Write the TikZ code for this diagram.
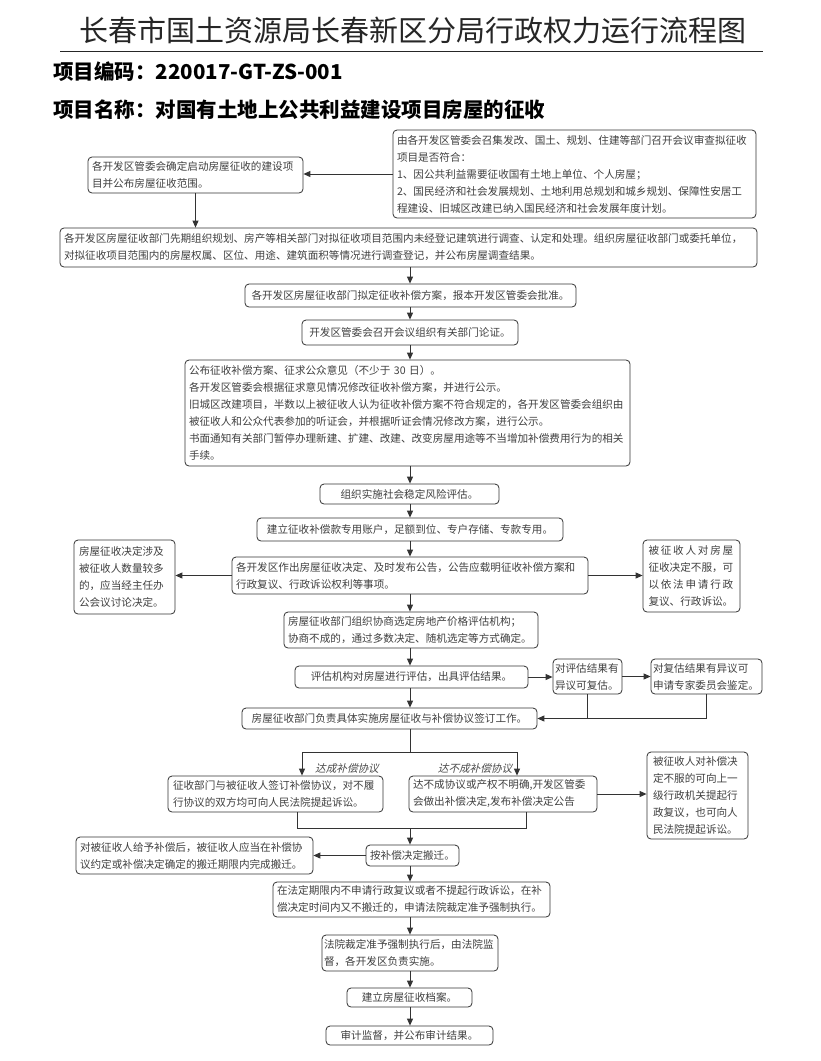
\documentclass[tikz,border=0pt]{standalone}
\usepackage{fontspec}
\newfontfamily\cjk{Noto Sans CJK SC}
\newfontfamily\cjki[FakeSlant=0.25]{Noto Sans CJK SC}
\usetikzlibrary{arrows.meta}
\begin{document}
\begin{tikzpicture}[x=1pt,y=-1pt,
  box/.style={draw=black!80, rounded corners=4pt, line width=0.8pt, inner sep=0pt,
    font=\cjk\fontsize{10.6}{17}\selectfont, text=black!75, align=left},
  cbox/.style={box, align=center},
  arr/.style={draw=black!80, line width=0.9pt, -{Triangle[length=7pt,width=6pt]}},
  ln/.style={draw=black!80, line width=0.9pt},
  lbl/.style={font=\cjki\fontsize{10.6}{12}\selectfont, text=black!70, inner sep=0pt}]
\useasboundingbox (0,0) rectangle (820,1061);
\fill[white] (0,0) rectangle (820,1061);
\coordinate (ax) at (410,0);

% header
\node[font=\cjk\fontsize{29}{30}\selectfont, text=black!85, inner sep=0pt] (title) at (413,30) {长春市国土资源局长春新区分局行政权力运行流程图};
\draw[line width=1pt, black!85] (60,51) -- (763,51);
\node[anchor=west, inner sep=0pt, font=\cjk\bfseries\fontsize{20.5}{22}\selectfont] (code) at (53,72) {项目编码：220017-GT-ZS-001};
\node[anchor=west, inner sep=0pt, font=\cjk\bfseries\fontsize{20.5}{22}\selectfont] (pname) at (53,110) {项目名称：对国有土地上公共利益建设项目房屋的征收};

% boxes
\node[box, minimum width=363, minimum height=88, text width=355] (A) at (574.5,174) {由各开发区管委会召集发改、国土、规划、住建等部门召开会议审查拟征收\\项目是否符合：\\1、因公共利益需要征收国有土地上单位、个人房屋；\\2、国民经济和社会发展规划、土地利用总规划和城乡规划、保障性安居工\\程建设、旧城区改建已纳入国民经济和社会发展年度计划。};
\node[box, minimum width=215, minimum height=36, text width=207] (B) at (195.5,175) {各开发区管委会确定启动房屋征收的建设项\\目并公布房屋征收范围。};
\node[box, minimum width=697, minimum height=39, text width=689] (C) at (408.5,247.5) {各开发区房屋征收部门先期组织规划、房产等相关部门对拟征收项目范围内未经登记建筑进行调查、认定和处理。组织房屋征收部门或委托单位，\\对拟征收项目范围内的房屋权属、区位、用途、建筑面积等情况进行调查登记，并公布房屋调查结果。};
\node[cbox, minimum width=331, minimum height=23] (D) at (410.5,295.5) {各开发区房屋征收部门拟定征收补偿方案，报本开发区管委会批准。};
\node[cbox, minimum width=216, minimum height=25] (E) at (410,332.5) {开发区管委会召开会议组织有关部门论证。};
\node[box, minimum width=445, minimum height=106, text width=437] (F) at (407.5,413) {公布征收补偿方案、征求公众意见（不少于 30 日）。\\各开发区管委会根据征求意见情况修改征收补偿方案，并进行公示。\\旧城区改建项目，半数以上被征收人认为征收补偿方案不符合规定的，各开发区管委会组织由\\被征收人和公众代表参加的听证会，并根据听证会情况修改方案，进行公示。\\书面通知有关部门暂停办理新建、扩建、改建、改变房屋用途等不当增加补偿费用行为的相关\\手续。};
\node[cbox, minimum width=179, minimum height=20] (G) at (409.5,494) {组织实施社会稳定风险评估。};
\node[cbox, minimum width=306, minimum height=23] (H) at (410,529.5) {建立征收补偿款专用账户，足额到位、专户存储、专款专用。};
\node[box, minimum width=356, minimum height=37, text width=348] (I) at (410,575.5) {各开发区作出房屋征收决定、及时发布公告，公告应载明征收补偿方案和\\行政复议、行政诉讼权利等事项。};
\node[box, minimum width=101, minimum height=74, text width=91] (J) at (124.5,577) {房屋征收决定涉及\\被征收人数量较多\\的，应当经主任办\\公会议讨论决定。};
\node[box, minimum width=97, minimum height=72, text width=86] (K) at (691.5,576) {\makebox[84.8pt][s]{被\hfill 征\hfill 收\hfill 人\hfill 对\hfill 房\hfill 屋}\\征收决定不服，可\\\makebox[84.8pt][s]{以\hfill 依\hfill 法\hfill 申\hfill 请\hfill 行\hfill 政}\\复议、行政诉讼。};
\node[box, minimum width=254, minimum height=36, text width=246] (L) at (411,630) {房屋征收部门组织协商选定房地产价格评估机构；\\协商不成的，通过多数决定、随机选定等方式确定。};
\node[cbox, minimum width=233, minimum height=22] (M) at (411.5,677) {评估机构对房屋进行评估，出具评估结果。};
\node[box, minimum width=69, minimum height=35, text width=65] (N) at (587.5,676.5) {对评估结果有\\异议可复估。};
\node[box, minimum width=111, minimum height=35, text width=107] (O) at (706.5,676.5) {对复估结果有异议可\\申请专家委员会鉴定。};
\node[cbox, minimum width=295, minimum height=21] (P) at (389.5,718.5) {房屋征收部门负责具体实施房屋征收与补偿协议签订工作。};
\node[box, minimum width=215, minimum height=36, text width=205] (Q) at (275.5,794) {征收部门与被征收人签订补偿协议，对不履\\行协议的双方均可向人民法院提起诉讼。};
\node[box, minimum width=188, minimum height=36, text width=180] (R) at (503,794) {达不成协议或产权不明确,开发区管委\\会做出补偿决定,发布补偿决定公告};
\node[box, minimum width=101, minimum height=87, text width=89] (S) at (697.5,795.5) {被征收人对补偿决\\定不服的可向上一\\级行政机关提起行\\政复议，也可向人\\民法院提起诉讼。};
\node[cbox, minimum width=93, minimum height=21] (T) at (412.5,855.5) {按补偿决定搬迁。};
\node[box, minimum width=237, minimum height=37, text width=229] (U) at (194.5,855.5) {对被征收人给予补偿后，被征收人应当在补偿协\\议约定或补偿决定确定的搬迁期限内完成搬迁。};
\node[box, minimum width=277, minimum height=35, text width=269] (V) at (411.5,899.5) {在法定期限内不申请行政复议或者不提起行政诉讼，在补\\偿决定时间内又不搬迁的，申请法院裁定准予强制执行。};
\node[box, minimum width=176, minimum height=36, text width=172] (W) at (410,953) {法院裁定准予强制执行后，由法院监\\督，各开发区负责实施。};
\node[cbox, minimum width=125, minimum height=19] (X) at (409.5,997.5) {建立房屋征收档案。};
\node[cbox, minimum width=167, minimum height=19] (Y) at (409.5,1035.5) {审计监督，并公布审计结果。};

% labels
\node[lbl] (l1) at (347,768) {达成补偿协议};
\node[lbl] (l2) at (475,768) {达不成补偿协议};

% connectors
\draw[arr] (A.west) -- (A.west -| B.east);
\draw[arr] (B.south) -- (B.south |- C.north);
\draw[arr] (ax |- C.south) -- (ax |- D.north);
\draw[arr] (ax |- D.south) -- (ax |- E.north);
\draw[arr] (ax |- E.south) -- (ax |- F.north);
\draw[arr] (ax |- F.south) -- (ax |- G.north);
\draw[arr] (ax |- G.south) -- (ax |- H.north);
\draw[arr] (ax |- H.south) -- (ax |- I.north);
\draw[arr] (I.west) -- (I.west -| J.east);
\draw[arr] (I.east) -- (I.east -| K.west);
\draw[arr] (ax |- I.south) -- (ax |- L.north);
\draw[arr] (ax |- L.south) -- (ax |- M.north);
\draw[arr] (M.east) -- (M.east -| N.west);
\draw[arr] (N.east) -- (N.east -| O.west);
\draw[arr] (ax |- M.south) -- (ax |- P.north);
\draw[arr] (N.south) |- (P.east);
\draw[ln] (O.south) |- (N.south |- P.east);
\coordinate (bl) at (302,752);
\coordinate (bq) at (517,752);
\draw[ln] (ax |- P.south) -- (ax |- bl);
\draw[ln] (bl) -- (bq);
\draw[arr] (bl) -- (bl |- Q.north);
\draw[arr] (bq) -- (bq |- R.north);
\draw[arr] (R.east) -- (R.east -| S.west);
\coordinate (ml) at (297,828);
\coordinate (mr) at (526,828);
\draw[ln] (ml |- Q.south) -- (ml) -- (mr) -- (mr |- R.south);
\draw[arr] (ax |- ml) -- (ax |- T.north);
\draw[arr] (T.west) -- (T.west -| U.east);
\draw[arr] (ax |- T.south) -- (ax |- V.north);
\draw[arr] (ax |- V.south) -- (ax |- W.north);
\draw[arr] (ax |- W.south) -- (ax |- X.north);
\draw[arr] (ax |- X.south) -- (ax |- Y.north);
\end{tikzpicture}
\end{document}
